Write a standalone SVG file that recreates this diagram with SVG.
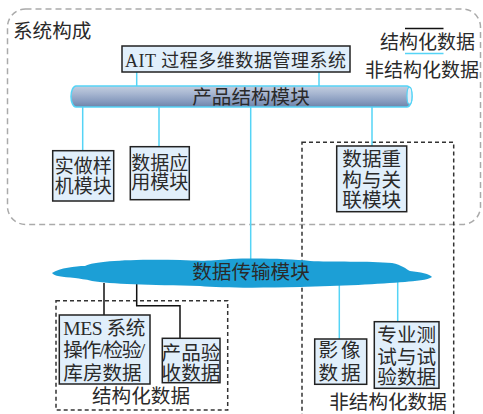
<svg xmlns="http://www.w3.org/2000/svg" width="483" height="414" viewBox="0 0 483 414">
<style>
text{font-family:"Liberation Serif","Noto Sans CJK SC",serif;fill:#2a2a2a;font-size:19.6px}
.box{fill:#e1effb;stroke:#222;stroke-width:1.5}
.cy{stroke:#55d4f6;stroke-width:1.5;fill:none}
.bk{stroke:#111;stroke-width:1.5;fill:none}
.dash{fill:none;stroke:#333;stroke-width:1.5;stroke-dasharray:4 3}
.m{text-anchor:middle}
.s{font-size:19px}
</style>
<defs>
<linearGradient id="cyl" x1="0" y1="0" x2="0" y2="1">
<stop offset="0" stop-color="#c3cee0"/>
<stop offset="0.35" stop-color="#a8b7d1"/>
<stop offset="0.75" stop-color="#8599bd"/>
<stop offset="1" stop-color="#6d83a9"/>
</linearGradient>
<filter id="soft" x="-5%" y="-20%" width="110%" height="140%"><feGaussianBlur stdDeviation="0.6"/></filter>
</defs>

<rect x="7.5" y="9" width="473" height="215.5" rx="18" fill="none" stroke="#aaa" stroke-width="1.5" stroke-dasharray="6 4"/>
<text x="13" y="38">系统构成</text>

<g id="legend">
<text x="380" y="49" style="font-size:19px">结构化数据</text>
<line x1="405" y1="28.5" x2="443.5" y2="28.5" stroke="#111" stroke-width="1.5"/>
<line x1="405" y1="53.5" x2="443.5" y2="53.5" stroke="#55d4f6" stroke-width="1.5"/>
<text x="365" y="77" style="font-size:19px">非结构化数据</text>
</g>

<rect class="dash" x="302" y="142.3" width="151.7" height="280"/>
<text class="m" x="388" y="409">非结构化数据</text>
<rect class="dash" x="56" y="300.7" width="171.7" height="109.3"/>
<text class="m" x="141" y="403">结构化数据</text>

<g id="connectors">
<line class="cy" x1="136.7" y1="72" x2="136.7" y2="86"/>
<line class="cy" x1="319" y1="72" x2="319" y2="86"/>
<line class="cy" x1="82.7" y1="107" x2="82.7" y2="150.7"/>
<line class="cy" x1="159" y1="107" x2="159" y2="146.7"/>
<line class="cy" x1="250.7" y1="107" x2="250.7" y2="262"/>
<line class="cy" x1="372" y1="107" x2="372" y2="146"/>
<line class="bk" x1="104" y1="283" x2="104" y2="315"/>
<polyline class="bk" points="136.7,284 136.7,305.7 180,305.7 180,338.3"/>
<line class="cy" x1="339.3" y1="284" x2="339.3" y2="339"/>
<line class="cy" x1="397.7" y1="282" x2="397.7" y2="321.7"/>
</g>

<g id="ait">
<rect class="box" x="122" y="46" width="228" height="26"/>
<text x="125" y="67" style="font-size:18px" textLength="221">AIT 过程多维数据管理系统</text>
</g>

<g id="product">
<path d="M76,86 H407 A5,10.5 0 0 1 407,107 H76 A5,10.5 0 0 1 76,86 Z" fill="url(#cyl)" stroke="#55d4f6" stroke-width="1.5"/>
<ellipse cx="409.5" cy="95.7" rx="2.5" ry="8.5" fill="#e6eef8" stroke="#55d4f6" stroke-width="1.2"/>
<text class="m" x="251" y="104">产品结构模块</text>
</g>

<g id="proto">
<rect class="box" x="52.7" y="150.7" width="61" height="50.3"/>
<text class="m s" x="83.2" y="173.3">实做样</text>
<text class="m s" x="83.2" y="193">机模块</text>
</g>

<g id="app">
<rect class="box" x="130.3" y="146.7" width="59" height="53"/>
<text class="m s" x="159.8" y="169.5">数据应</text>
<text class="m s" x="159.8" y="189">用模块</text>
</g>

<g id="rebuild">
<rect class="box" x="336.7" y="146" width="70" height="65.7"/>
<text class="m" x="371.7" y="165.5">数据重</text>
<text class="m" x="371.7" y="186.5">构与关</text>
<text class="m" x="371.7" y="207">联模块</text>
</g>

<g id="transfer">
<path filter="url(#soft)" fill="#1f9fd6" d="M52,273 C60,268 75,266 85,266 C95,261 130,259 180,260 C200,261 210,261 230,259 C260,258 290,259 310,261 C330,262 370,261 392,263 C402,265 406,269 410,271 C420,272 430,274 432,277 C428,280 415,281 405,282 C380,284 340,286 300,287 C260,288 220,288 200,286 C150,285 110,284 92,281 C85,279 80,279 75,278 C62,277 54,276 52,273 Z"/>
<text class="m" x="251" y="279">数据传输模块</text>
</g>

<g id="mes">
<rect class="box" x="59.3" y="315" width="90.7" height="69"/>
<text x="63.3" y="334.5" textLength="82">MES 系统</text>
<text x="63.3" y="357" textLength="82">操作/检验/</text>
<text x="63.3" y="380">库房数据</text>
</g>

<g id="accept">
<rect class="box" x="162.3" y="338.3" width="57.7" height="44.4"/>
<text class="m" x="191" y="360.3">产品验</text>
<text class="m" x="191" y="380.3">收数据</text>
</g>

<g id="image">
<rect class="box" x="314.7" y="339" width="52" height="45.3"/>
<text x="318.5" y="357" textLength="42">影像</text>
<text x="318.5" y="380.3" textLength="42">数据</text>
</g>

<g id="test">
<rect class="box" x="374.3" y="321.7" width="64.7" height="66.6"/>
<text class="m" x="406.7" y="342">专业测</text>
<text class="m" x="406.7" y="363.7">试与试</text>
<text class="m" x="406.7" y="383.7">验数据</text>
</g>
</svg>
